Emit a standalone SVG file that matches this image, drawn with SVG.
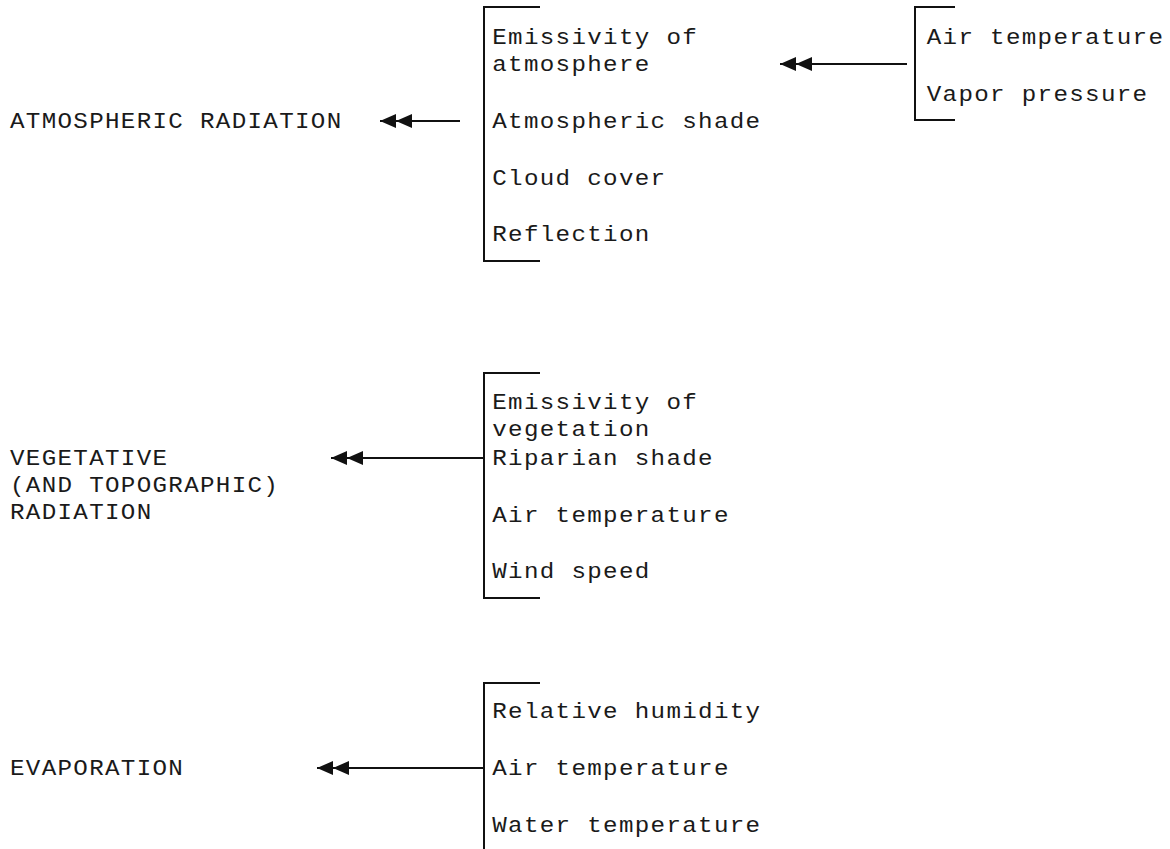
<svg xmlns="http://www.w3.org/2000/svg" width="1170" height="849" viewBox="0 0 1170 849">
<style>
text{font-family:"Liberation Mono","Courier New",monospace;font-size:22px;letter-spacing:1.2px;fill:#1a1a1a}
.br{fill:none;stroke:#111;stroke-width:2}
.ar{stroke:#111;stroke-width:2;marker-end:url(#dbl)}
</style>
<defs>
<marker id="dbl" markerUnits="userSpaceOnUse" markerWidth="33" markerHeight="15" refX="32" refY="7.5" orient="auto" overflow="visible">
<path d="M0,0.5 L16,7.5 L0,14.5 Z M16,0.5 L32,7.5 L16,14.5 Z" fill="#111"/>
</marker>
</defs>
<rect width="1170" height="849" fill="#fff"/>
<g id="atmospheric-radiation"><text transform="scale(1.1,1)" x="9.1" y="128">ATMOSPHERIC RADIATION</text></g>
<g id="atm-factors">
<path class="br" d="M540,7 H484 V261 H540"/>
<text transform="scale(1.1,1)" x="447.5" y="44">Emissivity of</text>
<text transform="scale(1.1,1)" x="447.5" y="71">atmosphere</text>
<text transform="scale(1.1,1)" x="447.5" y="128">Atmospheric shade</text>
<text transform="scale(1.1,1)" x="447.5" y="185">Cloud cover</text>
<text transform="scale(1.1,1)" x="447.5" y="241">Reflection</text>
</g>
<g id="emissivity-factors">
<path class="br" d="M955,7 H915 V120 H955"/>
<text transform="scale(1.1,1)" x="842.5" y="44">Air temperature</text>
<text transform="scale(1.1,1)" x="842.5" y="101">Vapor pressure</text>
</g>
<g id="vegetative-radiation">
<text transform="scale(1.1,1)" x="9.1" y="465">VEGETATIVE</text>
<text transform="scale(1.1,1)" x="9.1" y="492">(AND TOPOGRAPHIC)</text>
<text transform="scale(1.1,1)" x="9.1" y="519">RADIATION</text>
</g>
<g id="veg-factors">
<path class="br" d="M540,373 H484 V598 H540"/>
<text transform="scale(1.1,1)" x="447.5" y="409">Emissivity of</text>
<text transform="scale(1.1,1)" x="447.5" y="436">vegetation</text>
<text transform="scale(1.1,1)" x="447.5" y="465">Riparian shade</text>
<text transform="scale(1.1,1)" x="447.5" y="522">Air temperature</text>
<text transform="scale(1.1,1)" x="447.5" y="578">Wind speed</text>
</g>
<g id="evaporation"><text transform="scale(1.1,1)" x="9.1" y="775">EVAPORATION</text></g>
<g id="evap-factors">
<path class="br" d="M540,683 H484 V849"/>
<text transform="scale(1.1,1)" x="447.5" y="718">Relative humidity</text>
<text transform="scale(1.1,1)" x="447.5" y="775">Air temperature</text>
<text transform="scale(1.1,1)" x="447.5" y="832">Water temperature</text>
</g>
<g id="connectors">
<line class="ar" x1="460" y1="121" x2="380" y2="121"/>
<line class="ar" x1="907" y1="64" x2="780" y2="64"/>
<line class="ar" x1="484" y1="458" x2="331" y2="458"/>
<line class="ar" x1="484" y1="768" x2="317" y2="768"/>
</g>
</svg>
